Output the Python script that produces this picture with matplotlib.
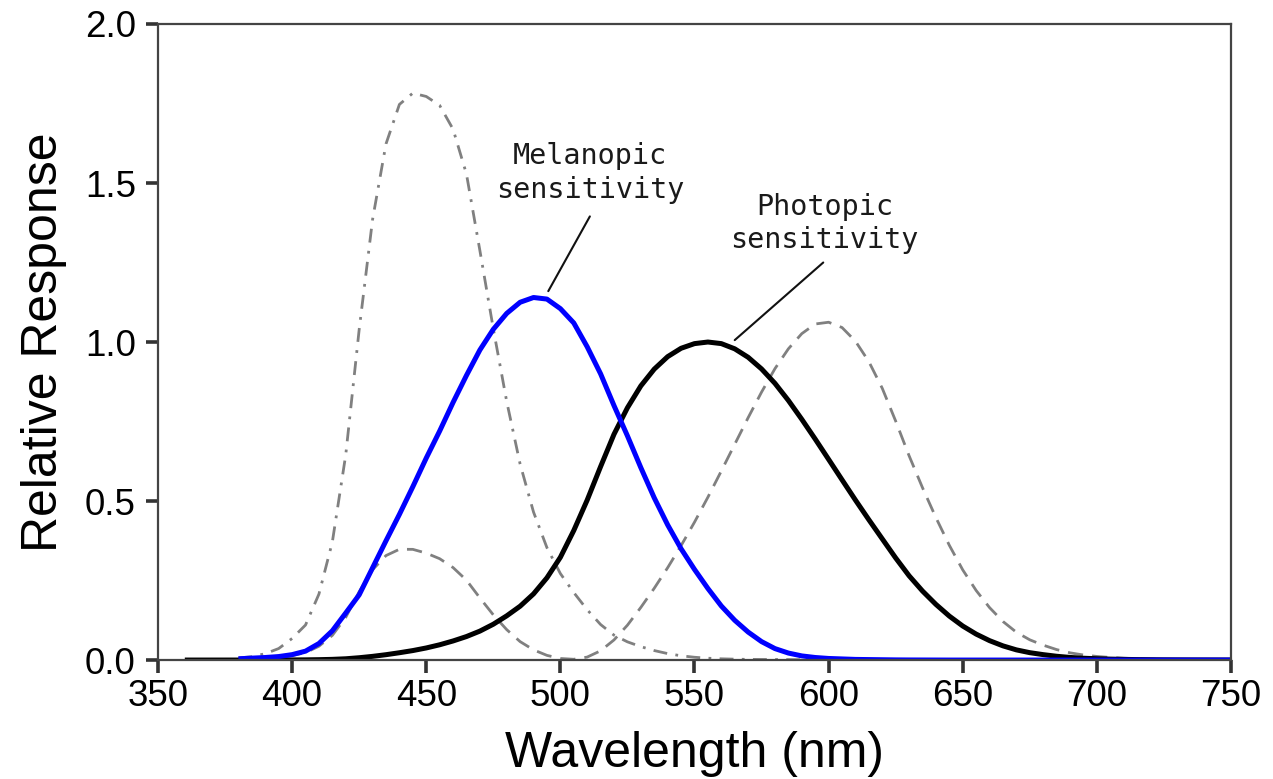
import matplotlib
matplotlib.use("Agg")
import matplotlib.pyplot as plt
import numpy as np

# ---------------- data ----------------
# wavelengths (nm), 5 nm steps
wl_y = list(range(360, 755, 5))
wl = list(range(380, 755, 5))

# photopic sensitivity (black)
photopic = [0.000004, 0.0000065, 0.000012, 0.000022, 0.000039, 0.000064, 0.00012, 0.000217,
            0.000396, 0.00064, 0.00121, 0.00218, 0.004, 0.0073, 0.0116, 0.01684, 0.023, 0.0298,
            0.038, 0.048, 0.06, 0.0739, 0.09098, 0.1126, 0.13902, 0.1693, 0.20802, 0.2586,
            0.323, 0.4073, 0.503, 0.6082, 0.71, 0.7932, 0.862, 0.91485, 0.954, 0.9803,
            0.99495, 1.0, 0.995, 0.9786, 0.952, 0.9154, 0.87, 0.8163, 0.757, 0.6949,
            0.631, 0.5668, 0.503, 0.4412, 0.381, 0.321, 0.265, 0.217, 0.175, 0.1382,
            0.107, 0.0816, 0.061, 0.04458, 0.032, 0.0232, 0.017, 0.01192, 0.00821, 0.005723,
            0.004102, 0.002929, 0.002091, 0.001484, 0.001047, 0.00074, 0.00052, 0.000361,
            0.000249, 0.000172, 0.00012]

# melanopic sensitivity (blue)
melanopic = [0.004, 0.006, 0.008, 0.011, 0.017, 0.028, 0.052, 0.092, 0.148, 0.205,
             0.29, 0.375, 0.458, 0.545, 0.635, 0.72, 0.81, 0.895, 0.975, 1.04,
             1.09, 1.125, 1.14, 1.135, 1.105, 1.06, 0.985, 0.9, 0.8, 0.705,
             0.605, 0.51, 0.425, 0.35, 0.285, 0.225, 0.17, 0.125, 0.088, 0.058,
             0.036, 0.022, 0.013, 0.008, 0.005, 0.0035, 0.002, 0.0015, 0.001, 0.0005,
             0.0003, 0.0002, 0.0001, 0.0, 0.0, 0.0, 0.0, 0.0, 0.0, 0.0,
             0.0, 0.0, 0.0, 0.0, 0.0, 0.0, 0.0, 0.0, 0.0, 0.0,
             0.0, 0.0, 0.0, 0.0, 0.0]

# gray dashed curve (two lobes)
xbar = [0.001368, 0.002236, 0.004243, 0.00765, 0.01431, 0.02319, 0.04351, 0.07763, 0.13438, 0.21477,
        0.2839, 0.3285, 0.34828, 0.34806, 0.3362, 0.3187, 0.2908, 0.2511, 0.19536, 0.1421,
        0.09564, 0.05795, 0.03201, 0.0147, 0.0049, 0.0024, 0.0093, 0.0291, 0.06327, 0.1096,
        0.1655, 0.22575, 0.2904, 0.3597, 0.43345, 0.51205, 0.5945, 0.6784, 0.7621, 0.8425,
        0.9163, 0.9786, 1.0263, 1.0567, 1.0622, 1.0456, 1.0026, 0.9384, 0.85445, 0.7514,
        0.6424, 0.5419, 0.4479, 0.3608, 0.2835, 0.2187, 0.1649, 0.1212, 0.0874, 0.0636,
        0.04677, 0.0329, 0.0227, 0.01584, 0.011359, 0.008111, 0.00579, 0.004109, 0.002899, 0.002049,
        0.00144, 0.001, 0.00069, 0.000476, 0.000332]

# gray dash-dot curve
zbar = [0.00645, 0.01055, 0.02005, 0.03621, 0.06785, 0.1102, 0.2074, 0.3713, 0.6456, 1.03905,
        1.3856, 1.62296, 1.74706, 1.7826, 1.77211, 1.7441, 1.6692, 1.5281, 1.28764, 1.0419,
        0.81295, 0.6162, 0.46518, 0.3533, 0.272, 0.2123, 0.1582, 0.1117, 0.07825, 0.05725,
        0.04216, 0.02984, 0.0203, 0.0134, 0.00875, 0.00575, 0.0039, 0.00275, 0.0021, 0.0018,
        0.00165, 0.0014, 0.0011, 0.001, 0.0008, 0.0006, 0.00034, 0.00024, 0.00019, 0.0001,
        0.00005, 0.00003, 0.00002, 0.00001, 0.0, 0.0, 0.0, 0.0, 0.0, 0.0,
        0.0, 0.0, 0.0, 0.0, 0.0, 0.0, 0.0, 0.0, 0.0, 0.0,
        0.0, 0.0, 0.0, 0.0, 0.0]

x_ticks = [350, 400, 450, 500, 550, 600, 650, 700, 750]
y_ticks = [0.0, 0.5, 1.0, 1.5, 2.0]

labels = ["Melanopic\nsensitivity", "Photopic\nsensitivity"]
label_pos = [(511.0, 1.532), (598.5, 1.372)]
leader_start = [(511.0, 1.395), (598.0, 1.250)]
leader_end = [(495.5, 1.160), (565.0, 1.006)]

# ---------------- plot ----------------
plt.rcParams['lines.scale_dashes'] = False
fig = plt.figure(figsize=(12.73, 7.79), dpi=100)
ax = fig.add_axes([0.1241, 0.1527, 0.967 - 0.1241, 0.9692 - 0.1527])

gray = '#808080'
ax.plot(wl, zbar, color=gray, lw=2.0, dashes=(10, 6, 2, 6))
ax.plot(wl, xbar, color=gray, lw=2.0, dashes=(11, 6.5))
ax.plot(wl_y, photopic, color='black', lw=3.6, solid_capstyle='butt',
        solid_joinstyle='round')
ax.plot(wl, melanopic, color='#0000FF', lw=3.6, solid_capstyle='butt',
        solid_joinstyle='round')

for txt, (tx, ty), (sx, sy), (ex, ey) in zip(labels, label_pos, leader_start, leader_end):
    ax.text(tx, ty, txt, ha='center', va='center', fontsize=20.5,
            family='DejaVu Sans Mono', color='#1a1a1a', linespacing=1.25)
    ax.annotate('', xy=(ex, ey), xytext=(sx, sy),
                arrowprops=dict(arrowstyle='-', color='#111111', lw=1.5,
                                shrinkA=0, shrinkB=0))

ax.set_xlim(350, 750)
ax.set_ylim(0, 2.0)
ax.set_xticks(x_ticks)
ax.set_yticks(y_ticks)
ax.set_yticklabels([f"{v:.1f}" for v in y_ticks])

for lab in ax.get_xticklabels() + ax.get_yticklabels():
    lab.set_family('Liberation Sans')
    lab.set_fontsize(26.5)

ax.tick_params(axis='both', direction='out', length=9, width=2.6, color='#333333')
ax.tick_params(axis='x', pad=5)
ax.tick_params(axis='y', pad=7)
for sp in ax.spines.values():
    sp.set_color('#444444')
    sp.set_linewidth(1.6)

ax.set_xlabel('Wavelength (nm)', fontsize=36, family='Liberation Sans')
ax.set_ylabel('Relative Response', fontsize=36, family='Liberation Sans')
ax.xaxis.set_label_coords(0.5, -0.112)
ax.yaxis.set_label_coords(-0.085, 0.5)

fig.savefig('out.png', dpi=100, facecolor='white')
